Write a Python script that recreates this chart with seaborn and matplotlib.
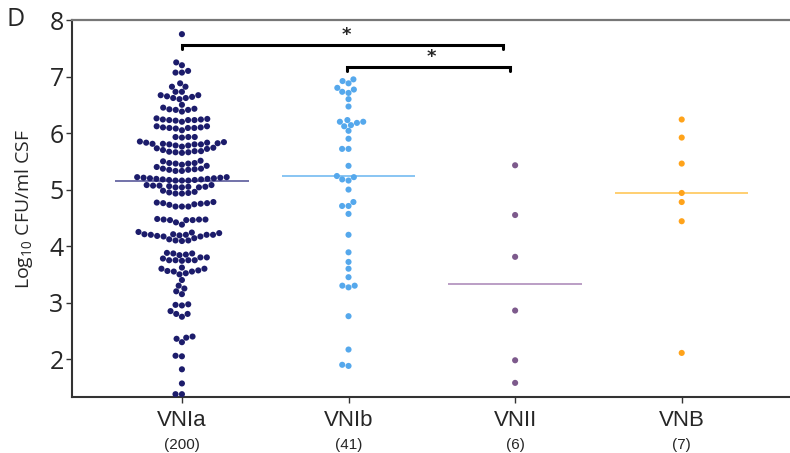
import numpy as np
import pandas as pd
import matplotlib.pyplot as plt
import seaborn as sns

# values (log10 CFU/ml CSF)
groups = ['VNIa', 'VNIb', 'VNII', 'VNB']
counts = [200, 41, 6, 7]
vnia = [7.75, 7.25, 7.2, 7.1, 7.07, 7.07, 6.88, 6.82, 6.82, 6.73, 6.73,
        6.67, 6.64, 6.62, 6.6, 6.62, 6.65, 6.67, 6.5,
        6.45, 6.42, 6.41, 6.38, 6.41, 6.43,
        6.25, 6.24, 6.23, 6.23, 6.2, 6.22, 6.23, 6.24, 6.26,
        6.12, 6.1, 6.09, 6.09, 6.05, 6.08, 6.09, 6.1, 6.12,
        5.93, 5.93, 5.92, 5.93,
        5.85, 5.82, 5.83, 5.81, 5.84, 5.8, 5.78, 5.78, 5.8, 5.81, 5.8, 5.83,
        5.7, 5.68, 5.66, 5.66, 5.65, 5.67, 5.68, 5.72, 5.73, 5.74, 5.76,
        5.5, 5.47, 5.46, 5.44, 5.46, 5.47, 5.51,
        5.4, 5.37, 5.35, 5.33, 5.33, 5.35, 5.36, 5.37, 5.42,
        5.22, 5.21, 5.2, 5.19, 5.18, 5.17, 5.16, 5.16, 5.16, 5.17, 5.18, 5.19, 5.2, 5.21, 5.22,
        5.08, 5.07, 5.05, 5.04, 5.04, 5.04, 5.05, 5.06, 5.07, 5.08,
        4.98, 4.96, 4.93, 4.93, 4.94, 4.95,
        4.78, 4.76, 4.73, 4.75, 4.77, 4.76, 4.7, 4.7, 4.7, 4.74,
        4.47, 4.46, 4.48, 4.46, 4.46, 4.47, 4.47, 4.42, 4.38,
        4.25, 4.2, 4.2, 4.21, 4.18, 4.17, 4.17, 4.19, 4.2, 4.2, 4.21, 4.12, 4.1, 4.09,
        4.1, 4.14, 4.23, 4.24,
        3.85, 3.84, 3.88, 3.87, 3.87, 3.8, 3.78, 3.8, 3.75, 3.74, 3.75, 3.75, 3.75,
        3.6, 3.62, 3.6,
        3.57, 3.55, 3.52, 3.5, 3.55, 3.56, 3.4,
        3.3, 3.25, 3.15, 3.2,
        2.97, 2.95, 2.96, 2.85, 2.8, 2.75, 2.8,
        2.4, 2.38, 2.36, 2.3,
        2.05, 2.06, 1.82, 1.57, 1.38, 1.38]
vnib = [6.95, 6.88, 6.92, 6.77, 6.71, 6.73, 6.8, 6.6, 6.47,
        6.2, 6.18, 6.14, 6.23, 6.12, 6.2, 6.04, 5.9, 5.72, 5.72, 5.42,
        5.22, 5.16, 5.18, 5.24, 5.0, 4.78, 4.71, 4.71, 4.57,
        4.2, 3.89, 3.72, 3.6, 3.45, 3.3, 3.27, 3.3, 2.76, 2.17, 1.88, 1.9]
vnii = [5.43, 4.55, 3.81, 2.86, 1.98, 1.58]
vnb = [6.24, 5.92, 5.46, 4.94, 4.78, 4.44, 2.11]

dot_colors = ['#1c1c6b', '#55a8ec', '#7d5a8c', '#ffa31a']
line_colors = ['#6767a3', '#7fc0f2', '#b596c0', '#ffcc66']

# significance brackets: (x start, x end, height)
brackets = [(0, 1.93, 7.55), (0.99, 1.97, 7.16)]

df = pd.DataFrame({
    'group': ['VNIa'] * len(vnia) + ['VNIb'] * len(vnib) + ['VNII'] * len(vnii) + ['VNB'] * len(vnb),
    'value': vnia + vnib + vnii + vnb,
})

sns.set_style('ticks')
plt.rcParams['font.family'] = ['Open Sans', 'DejaVu Sans']
plt.rcParams['mathtext.fontset'] = 'custom'
plt.rcParams['mathtext.rm'] = 'Open Sans'

fig = plt.figure(figsize=(7.9, 4.53), dpi=100)
ax = fig.add_axes([0.0911, 0.1236, 0.9089, 0.8322])

sns.swarmplot(data=df, x='group', y='value', hue='group', order=groups,
              palette=dict(zip(groups, dot_colors)), size=4.4, legend=False, ax=ax)

for i, g in enumerate(groups):
    med = df.loc[df['group'] == g, 'value'].median()
    ax.hlines(med, i - 0.4, i + 0.4, color=line_colors[i], lw=1.3, zorder=1)

for x0, x1, h in brackets:
    ax.plot([x0, x0, x1, x1], [h - 0.06, h, h, h - 0.06], color='black', lw=2.2,
            solid_joinstyle='miter', clip_on=False)
    ax.text((x0 + x1) / 2 + 0.02, h + 0.02, '*', ha='center', va='bottom',
            fontsize=13, fontweight='bold', family='DejaVu Sans')

ax.set_xlim(-0.66, 3.65)
ax.set_ylim(1.33, 8)
ax.set_yticks(range(2, 9))
ax.tick_params(axis='y', labelsize=18, length=4, width=1, color='#333333', pad=2)
ax.tick_params(axis='x', length=4, width=1, color='#333333', labelbottom=False)
ax.set_xlabel('')
ax.set_ylabel('Log$_{10}$ CFU/ml CSF', fontsize=14, labelpad=10)

for i, g in enumerate(groups):
    ax.text(i, -0.035, g, transform=ax.get_xaxis_transform(), ha='center', va='top',
            fontsize=16, family='Liberation Sans')
    ax.text(i, -0.11, '(%d)' % counts[i], transform=ax.get_xaxis_transform(), ha='center',
            va='top', fontsize=11, family='Liberation Sans')

ax.spines['right'].set_visible(False)
ax.spines['top'].set_color('#777777')
ax.spines['top'].set_linewidth(1.6)
ax.spines['left'].set_color('#333333')
ax.spines['left'].set_linewidth(1.5)
ax.spines['bottom'].set_color('#333333')
ax.spines['bottom'].set_linewidth(1.5)

fig.text(0.008, 0.985, 'D', fontsize=18, ha='left', va='top')

fig.savefig('out.png', dpi=100)
